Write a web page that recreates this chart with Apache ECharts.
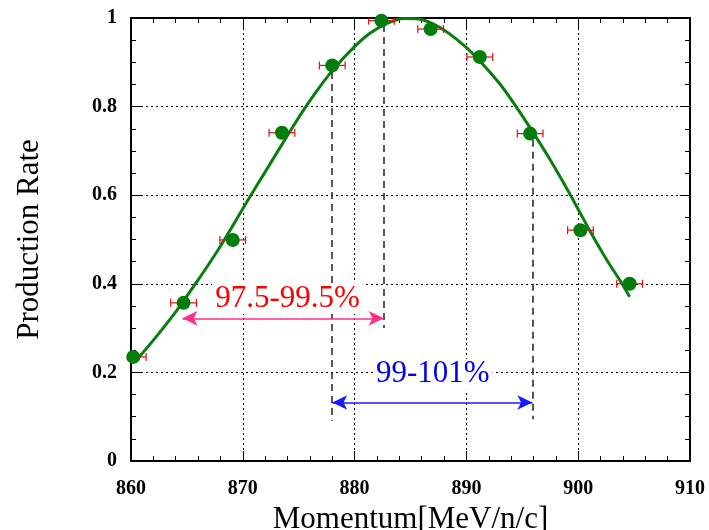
<!DOCTYPE html>
<html>
<head>
<meta charset="utf-8">
<script src="https://cdn.jsdelivr.net/npm/echarts@6/dist/echarts.min.js"></script>
<style>html,body{margin:0;padding:0;background:#fff;}#c{width:709px;height:530px;}</style>
</head>
<body>
<div id="c"></div>
<script>
// measured points
const pointX = [860.2, 864.7, 869.1, 873.5, 878.0, 882.4, 886.8, 891.2, 895.7, 900.2, 904.6];
const pointY = [0.235, 0.357, 0.499, 0.741, 0.893, 0.994, 0.975, 0.912, 0.739, 0.521, 0.400];
const xErr   = [1.15, 1.15, 1.15, 1.15, 1.15, 1.15, 1.15, 1.15, 1.15, 1.15, 1.15];
// fit curve
const curveX = [860.36, 862.3, 864.1, 865.9, 867.7, 869.15, 870.6, 872.4, 873.9, 875.4, 876.9, 878.1, 879.9, 881.4, 882.9, 884.4, 885.7, 887.6, 889.7, 891.2, 893.0, 894.2, 895.7, 897.3, 898.6, 899.9, 901.1, 902.6, 903.7, 904.6];
const curveY = [0.224, 0.282, 0.340, 0.405, 0.473, 0.533, 0.595, 0.669, 0.731, 0.791, 0.845, 0.884, 0.933, 0.966, 0.988, 0.999, 0.998, 0.979, 0.940, 0.903, 0.851, 0.809, 0.752, 0.688, 0.632, 0.573, 0.517, 0.452, 0.409, 0.371];
// vertical dashed reference lines
const refX      = [878.0, 882.6, 895.9];
const refTop    = [0.878, 0.984, 0.725];
const refBottom = [0.091, 0.300, 0.094];
// range arrows
const arrowFrom  = [864.6, 878.0];
const arrowTo    = [882.6, 895.9];
const arrowY     = [0.322, 0.132];
const arrowText  = ['97.5-99.5%', '99-101%'];
const arrowTextX = [874.0, 887.0];
const arrowTextY = [0.367, 0.196];
const arrowLineColor = ['#ff2f86', '#1a1aff'];
const arrowTextColor = ['#ff0000', '#0000ee'];
// ticks
const xTicks = [860, 870, 880, 890, 900, 910];
const yTicks = [0, 0.2, 0.4, 0.6, 0.8, 1];

const FONT = "'Liberation Serif', 'Times New Roman', serif";

const chart = echarts.init(document.getElementById('c'), null, {renderer: 'canvas'});

const axisCommon = {
  type: 'value',
  axisLine: {show: true, onZero: false, lineStyle: {color: '#000', width: 2}},
  axisTick: {show: true, inside: true, length: 10, lineStyle: {color: '#000', width: 1}},
  minorTick: {show: true, length: 5, lineStyle: {color: '#000', width: 1}},
};

const refLines = refX.map((x, i) => [
  {coord: [x, refTop[i]]}, {coord: [x, refBottom[i]]}
]);

const arrowSeries = arrowFrom.map((x0, i) => ({
  type: 'line',
  data: [],
  silent: true,
  markLine: {
    silent: true,
    symbol: ['arrow', 'arrow'],
    symbolSize: [11, 15],
    label: {show: false},
    lineStyle: {color: arrowLineColor[i], width: 1.5, type: 'solid'},
    data: [[{coord: [x0, arrowY[i]]}, {coord: [arrowTo[i], arrowY[i]]}]]
  },
  markPoint: {
    silent: true,
    symbol: 'circle',
    symbolSize: 0,
    label: {
      show: true, position: 'inside',
      formatter: arrowText[i],
      color: arrowTextColor[i],
      fontFamily: FONT, fontSize: 31,
      backgroundColor: '#fff', padding: [0, 3]
    },
    data: [{coord: [arrowTextX[i], arrowTextY[i]]}]
  },
  z: 6
}));

chart.setOption({
  animation: false,
  backgroundColor: '#fff',
  grid: {left: 131, right: 19, top: 18, bottom: 69, containLabel: false, outerBoundsMode: 'none'},
  xAxis: [
    Object.assign({}, axisCommon, {
      min: 860, max: 910, interval: 10,
      minorTick: Object.assign({}, axisCommon.minorTick, {splitNumber: 5}),
      position: 'bottom',
      axisLabel: {show: true, margin: 18, color: '#000', fontFamily: FONT, fontWeight: 'bold', fontSize: 20,
        formatter: v => xTicks.includes(v) ? String(v) : ''},
      splitLine: {show: true, lineStyle: {color: '#000', width: 1, type: [2, 3]}},
      name: 'Momentum[MeV/n/c]', nameLocation: 'middle', nameGap: 38,
      nameTextStyle: {fontFamily: FONT, fontSize: 31, color: '#000'}
    }),
    Object.assign({}, axisCommon, {
      min: 860, max: 910, interval: 10,
      minorTick: Object.assign({}, axisCommon.minorTick, {splitNumber: 5}),
      position: 'top', axisLabel: {show: false}, splitLine: {show: false}
    })
  ],
  yAxis: [
    Object.assign({}, axisCommon, {
      min: 0, max: 1, interval: 0.2,
      minorTick: Object.assign({}, axisCommon.minorTick, {splitNumber: 4}),
      position: 'left',
      axisLabel: {show: true, margin: 14, color: '#000', fontFamily: FONT, fontWeight: 'bold', fontSize: 20,
        formatter: v => { const t = yTicks.find(k => Math.abs(k - v) < 1e-9); return t === undefined ? '' : String(t); }},
      splitLine: {show: true, lineStyle: {color: '#000', width: 1, type: [2, 3]}},
      name: 'Production Rate', nameLocation: 'middle', nameGap: 86, nameRotate: 90,
      nameTextStyle: {fontFamily: FONT, fontSize: 31, color: '#000'}
    }),
    Object.assign({}, axisCommon, {
      min: 0, max: 1, interval: 0.2,
      minorTick: Object.assign({}, axisCommon.minorTick, {splitNumber: 4}),
      position: 'right', axisLabel: {show: false}, splitLine: {show: false}
    })
  ],
  series: [
    {
      type: 'line',
      name: 'fit',
      data: curveX.map((x, i) => [x, curveY[i]]),
      smooth: 0.3,
      showSymbol: false,
      lineStyle: {color: '#0a7d10', width: 3},
      z: 3,
      markLine: {
        silent: true,
        symbol: ['none', 'none'],
        label: {show: false},
        lineStyle: {color: '#222', width: 1.5, type: [7, 5]},
        data: refLines
      }
    },
    {
      type: 'custom',
      name: 'err',
      clip: true,
      data: pointX.map((x, i) => [x, pointY[i], xErr[i]]),
      renderItem: function (params, api) {
        const x = api.value(0), y = api.value(1), e = api.value(2);
        const p0 = api.coord([x - e, y]);
        const p1 = api.coord([x + e, y]);
        const h = 4;
        const style = {stroke: '#e01010', lineWidth: 1.2};
        return {
          type: 'group',
          children: [
            {type: 'line', shape: {x1: p0[0], y1: p0[1], x2: p1[0], y2: p1[1]}, style: style},
            {type: 'line', shape: {x1: p0[0], y1: p0[1] - h, x2: p0[0], y2: p0[1] + h}, style: style},
            {type: 'line', shape: {x1: p1[0], y1: p1[1] - h, x2: p1[0], y2: p1[1] + h}, style: style}
          ]
        };
      },
      z: 4
    },
    {
      type: 'scatter',
      name: 'data',
      data: pointX.map((x, i) => [x, pointY[i]]),
      symbol: 'circle',
      symbolSize: 14,
      itemStyle: {color: '#007d0a', opacity: 1},
      z: 5
    }
  ].concat(arrowSeries)
});
</script>
</body>
</html>
